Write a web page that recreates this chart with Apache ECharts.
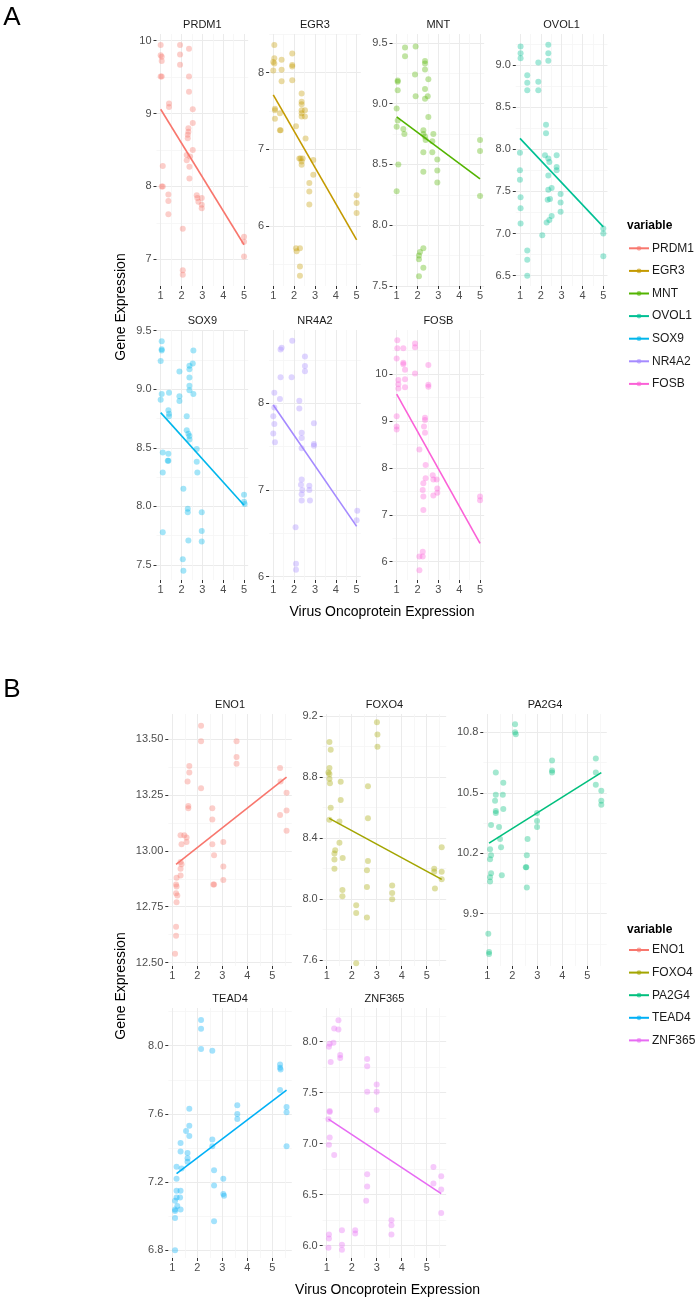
<!DOCTYPE html>
<html>
<head>
<meta charset="utf-8">
<script src="https://cdn.jsdelivr.net/npm/echarts@6/dist/echarts.min.js"></script>
<style>html,body{margin:0;padding:0;background:#fff;}#chart{width:697px;height:1302px;}</style>
</head>
<body>
<div id="chart"></div>
<script>
// ---------------- DATA ----------------
const A_xTicks = ['1','2','3','4','5'];
const B_xTicks = ['1','2','3','4','5'];

const PRDM1 = [[1,9.94],[1,9.80],[1.05,9.78],[1.05,9.72],[1,9.51],[1.05,9.51],[1.93,9.94],[1.93,9.81],[1.93,9.67],[2.36,9.89],[1.4,9.14],[1.4,9.09],[1.1,8.28],[1.1,8.00],[1.05,8.00],[1.37,7.89],[1.37,7.80],[1.37,7.62],[2.36,9.51],[2.36,9.30],[2.54,9.06],[2.54,8.87],[2.33,8.80],[2.33,8.75],[2.3,8.71],[2.3,8.66],[2.54,8.50],[2.25,8.43],[2.41,8.41],[2.25,8.36],[2.38,8.27],[2.38,8.11],[2.73,7.88],[2.76,7.84],[2.81,7.79],[2.97,7.84],[2.97,7.75],[2.97,7.70],[2.06,7.42],[2.06,6.85],[2.06,6.79],[5,7.31],[5,7.24],[5,7.04]];
const PRDM1_fit = [[1,9.06],[5,7.20]];
const PRDM1_yTicks = ['7','8','9','10'];

const EGR3 = [[1.05,8.36],[1.05,8.19],[1,8.14],[1.05,8.12],[1,8.03],[1.4,8.17],[1.4,8.04],[1.4,7.89],[1.91,8.25],[1.91,8.10],[1.91,8.08],[1.91,7.90],[1.08,7.53],[1.08,7.51],[1.08,7.40],[1.32,7.47],[1.32,7.25],[1.35,7.25],[2.09,7.30],[2.36,7.73],[2.36,7.62],[2.36,7.59],[2.36,7.51],[2.36,7.47],[2.36,7.43],[2.52,7.51],[2.52,7.43],[2.55,7.14],[2.25,6.88],[2.31,6.88],[2.41,6.88],[2.36,6.84],[2.36,6.80],[2.92,6.86],[2.92,6.67],[2.73,6.56],[2.73,6.45],[2.73,6.28],[2.09,5.71],[2.12,5.67],[2.28,5.71],[2.28,5.47],[2.28,5.35],[5,6.40],[5,6.30],[5,6.17]];
const EGR3_fit = [[1,7.71],[5,5.82]];
const EGR3_yTicks = ['6','7','8'];

const MNT = [[1.4,9.46],[1.4,9.39],[1.91,9.47],[1.88,9.24],[1.91,9.06],[1.05,9.19],[1.05,9.18],[1.05,9.11],[1,8.96],[1.05,8.86],[1,8.81],[1.08,8.50],[1,8.28],[1.32,8.79],[1.37,8.75],[2.36,9.35],[2.36,9.33],[2.36,9.28],[2.36,9.12],[2.49,9.06],[2.36,9.04],[2.52,9.20],[2.52,8.89],[2.28,8.78],[2.28,8.75],[2.36,8.73],[2.39,8.70],[2.76,8.75],[2.71,8.69],[2.71,8.60],[2.95,8.54],[2.95,8.45],[2.95,8.35],[2.28,8.60],[2.28,8.44],[2.07,7.75],[2.07,7.72],[2.12,7.78],[2.28,7.81],[2.28,7.65],[2.07,7.58],[5,8.70],[5,8.61],[5,8.24]];
const MNT_fit = [[1,8.89],[5,8.38]];
const MNT_yTicks = ['7.5','8.0','8.5','9.0','9.5'];

const OVOL1 = [[1.03,9.22],[1.03,9.14],[1.03,9.08],[1.35,8.88],[1.35,8.79],[1.35,8.70],[1.88,9.03],[1.88,8.80],[1.88,8.70],[2.36,9.24],[2.36,9.14],[2.36,9.05],[2.25,8.29],[2.25,8.19],[1,7.96],[1,7.75],[1,7.64],[1.03,7.43],[1.03,7.30],[1.03,7.12],[1.35,6.80],[1.35,6.69],[1.35,6.50],[2.07,6.98],[2.2,7.93],[2.36,7.89],[2.41,7.85],[2.76,7.93],[2.36,7.69],[2.36,7.52],[2.52,7.54],[2.33,7.40],[2.44,7.41],[2.52,7.21],[2.41,7.16],[2.28,7.13],[2.76,7.79],[2.76,7.75],[2.95,7.47],[2.95,7.37],[2.95,7.26],[5,7.06],[5,7.00],[5,6.73]];
const OVOL1_fit = [[1,8.13],[5,7.08]];
const OVOL1_yTicks = ['6.5','7.0','7.5','8.0','8.5','9.0'];

const SOX9 = [[1.05,9.41],[1.05,9.34],[1.05,9.33],[1,9.24],[1.05,8.96],[1,8.91],[1.1,7.78],[1.4,8.97],[1.37,8.82],[1.4,8.79],[1.4,8.77],[1.1,8.46],[1.1,8.29],[1.37,8.45],[1.37,8.39],[1.34,8.39],[1.9,9.15],[1.9,8.94],[1.9,8.90],[2.09,8.15],[2.38,9.20],[2.38,9.17],[2.57,9.33],[2.54,9.22],[2.38,9.10],[2.38,9.03],[2.38,8.99],[2.57,8.96],[2.25,8.77],[2.25,8.65],[2.33,8.62],[2.38,8.60],[2.38,8.57],[2.73,8.49],[2.73,8.38],[2.76,8.29],[2.3,7.98],[2.3,7.95],[2.33,7.71],[2.97,7.95],[2.97,7.79],[2.97,7.70],[2.06,7.55],[2.09,7.45],[5,8.10],[5,8.04],[5.03,8.02]];
const SOX9_fit = [[1,8.80],[5,8.01]];
const SOX9_yTicks = ['7.5','8.0','8.5','9.0','9.5'];

const NR4A2 = [[1.91,8.72],[1.35,8.62],[1.4,8.64],[1.35,8.30],[1.88,8.30],[2.52,8.54],[2.52,8.43],[2.52,8.37],[1.32,8.05],[1.05,8.12],[1.05,7.95],[1,7.85],[1.05,7.76],[1,7.65],[1.08,7.55],[2.25,8.03],[2.25,7.94],[2.36,7.66],[2.36,7.60],[2.36,7.48],[2.95,7.77],[2.95,7.53],[2.95,7.51],[2.36,7.12],[2.33,7.06],[2.39,7.00],[2.36,6.95],[2.36,6.88],[2.73,7.05],[2.73,7.00],[2.76,6.88],[2.07,6.57],[2.09,6.15],[2.09,6.08],[5.03,6.76],[5,6.65]];
const NR4A2_fit = [[1,7.98],[5,6.58]];
const NR4A2_yTicks = ['6','7','8'];

const FOSB = [[1.03,10.72],[1.03,10.55],[1,10.33],[1.32,10.55],[1.32,10.24],[1.32,10.21],[1.4,10.09],[1.08,9.87],[1.08,9.78],[1.08,9.69],[1.4,9.89],[1.4,9.72],[1.88,10.65],[1.88,10.57],[1.88,10.01],[2.09,8.39],[1,9.10],[1,8.88],[1,8.82],[2.36,9.07],[2.36,9.02],[2.31,8.88],[2.36,8.75],[2.52,9.77],[2.52,9.73],[2.52,10.19],[2.39,8.06],[2.39,7.78],[2.28,7.67],[2.25,7.53],[2.28,7.39],[2.28,7.10],[2.73,7.84],[2.76,7.75],[2.92,7.75],[2.95,7.56],[2.95,7.47],[2.76,7.41],[2.25,6.21],[2.25,6.11],[2.09,6.11],[2.09,5.82],[5,7.39],[5,7.31]];
const FOSB_fit = [[1,9.57],[5,6.39]];
const FOSB_yTicks = ['6','7','8','9','10'];

const ENO1 = [[2.15,13.56],[2.15,13.49],[2.15,13.28],[3.57,13.49],[3.57,13.42],[3.57,13.39],[1.68,13.38],[1.61,13.31],[1.68,13.35],[1.64,13.20],[1.64,13.19],[5.31,13.37],[5.33,13.31],[5.57,13.26],[5.57,13.18],[5.31,13.16],[5.57,13.09],[1.33,13.07],[1.48,13.07],[1.57,13.06],[1.57,13.04],[1.37,13.03],[2.6,13.19],[2.6,13.14],[2.6,13.03],[2.67,12.98],[2.67,12.85],[2.64,12.85],[3.04,13.04],[3.04,12.93],[3.04,12.87],[1.33,12.95],[1.37,12.94],[1.33,12.92],[1.33,12.89],[1.17,12.88],[1.15,12.85],[1.17,12.84],[1.15,12.81],[1.2,12.80],[1.17,12.77],[1.15,12.66],[1.15,12.62],[1.11,12.54]];
const ENO1_fit = [[1.15,12.94],[5.57,13.33]];
const ENO1_yTicks = ['12.50','12.75','13.00','13.25','13.50'];

const FOXO4 = [[1.11,9.03],[1.16,8.98],[1.11,8.86],[1.07,8.83],[1.11,8.82],[1.11,8.79],[1.13,8.76],[1.56,8.77],[1.56,8.65],[1.51,8.51],[1.51,8.37],[1.16,8.60],[1.11,8.52],[1.34,8.32],[1.31,8.30],[1.31,8.26],[1.31,8.20],[1.64,8.27],[1.63,8.06],[1.63,8.02],[3.01,9.16],[3.03,9.08],[3.03,9.00],[2.65,8.74],[2.65,8.53],[2.65,8.25],[2.61,8.19],[2.61,8.08],[2.61,7.88],[2.18,7.96],[2.18,7.91],[2.18,7.58],[3.62,8.09],[3.62,8.04],[3.62,8.00],[5.3,8.18],[5.3,8.20],[5.33,8.07],[5.6,8.34],[5.6,8.18],[5.6,8.13]];
const FOXO4_fit = [[1.1,8.53],[5.6,8.13]];
const FOXO4_yTicks = ['7.6','8.0','8.4','8.8','9.2'];

const PA2G4 = [[2.11,10.84],[2.11,10.80],[2.14,10.79],[3.59,10.66],[3.59,10.61],[3.59,10.60],[5.34,10.67],[5.34,10.60],[5.34,10.54],[5.56,10.51],[5.56,10.46],[5.56,10.44],[1.34,10.60],[1.34,10.49],[1.31,10.46],[1.34,10.41],[1.34,10.40],[1.64,10.55],[1.62,10.49],[1.64,10.42],[1.15,10.34],[1.11,10.22],[1.15,10.19],[1.11,10.17],[1.15,10.10],[1.11,10.08],[1.11,10.06],[1.47,10.33],[1.51,10.27],[1.55,10.23],[1.58,10.09],[2.99,10.40],[2.99,10.36],[2.99,10.33],[2.61,10.27],[2.58,10.19],[2.54,10.13],[2.56,10.13],[2.58,10.03],[1.04,9.80],[1.07,9.71],[1.07,9.70]];
const PA2G4_fit = [[1.07,10.25],[5.56,10.60]];
const PA2G4_yTicks = ['9.9','10.2','10.5','10.8'];

const TEAD4 = [[2.15,8.15],[2.15,8.10],[2.15,7.98],[2.6,7.97],[5.31,7.89],[5.31,7.87],[5.33,7.86],[5.31,7.74],[5.57,7.64],[5.57,7.61],[5.57,7.41],[3.6,7.65],[3.6,7.60],[3.6,7.57],[1.68,7.63],[1.68,7.53],[1.68,7.47],[1.55,7.50],[1.33,7.43],[1.33,7.38],[1.61,7.37],[1.61,7.34],[1.61,7.32],[2.6,7.45],[2.6,7.41],[2.67,7.27],[2.67,7.18],[2.67,6.97],[3.04,7.22],[3.04,7.13],[3.07,7.12],[1.17,7.29],[1.37,7.28],[1.17,7.22],[1.17,7.15],[1.33,7.15],[1.17,7.11],[1.31,7.11],[1.11,7.09],[1.2,7.06],[1.11,7.04],[1.11,7.03],[1.33,7.04],[1.11,6.99],[1.11,6.80]];
const TEAD4_fit = [[1.17,7.25],[5.57,7.74]];
const TEAD4_yTicks = ['6.8','7.2','7.6','8.0'];

const ZNF365 = [[1.47,8.21],[1.3,8.13],[1.47,8.12],[1.12,7.98],[1.09,7.95],[1.27,7.99],[1.16,7.80],[1.54,7.87],[1.54,7.84],[2.62,7.83],[2.62,7.76],[2.62,7.51],[2.62,6.70],[2.62,6.58],[2.58,6.44],[3.0,7.58],[3.0,7.51],[3.0,7.33],[1.12,7.32],[1.12,7.31],[1.07,7.24],[1.12,7.06],[1.09,6.99],[1.3,6.89],[5.27,6.77],[5.27,6.61],[5.58,6.68],[5.58,6.55],[5.58,6.32],[1.09,6.11],[1.09,6.07],[1.07,5.98],[1.61,6.15],[1.61,6.01],[1.61,5.96],[2.14,6.15],[2.14,6.12],[3.59,6.25],[3.59,6.20],[3.59,6.11]];
const ZNF365_fit = [[1.07,7.24],[5.58,6.51]];
const ZNF365_yTicks = ['6.0','6.5','7.0','7.5','8.0'];

const A_genes = ['PRDM1','EGR3','MNT','OVOL1','SOX9','NR4A2','FOSB'];
const B_genes = ['ENO1','FOXO4','PA2G4','TEAD4','ZNF365'];

// ---------------- LAYOUT / STYLE ----------------
const FONT = '"Liberation Sans", Arial, Helvetica, sans-serif';
const A_cols = [156.5, 269.1, 392.5, 515.8], A_w = 91.7;
const A_rows = [[34, 252], [330, 250]];
const B_cols = [168.3, 322.7, 483.3], B_w = 123.5;
const B_rows = [[714, 252], [1008, 250]];

const panels = [
  {name:'PRDM1', data:PRDM1, fit:PRDM1_fit, yT:PRDM1_yTicks, xT:A_xTicks, color:'#F8766D', col:A_cols[0], w:A_w, row:A_rows[0], xr:[0.8,5.2], yr:[6.634,10.092]},
  {name:'EGR3', data:EGR3, fit:EGR3_fit, yT:EGR3_yTicks, xT:A_xTicks, color:'#C49A00', col:A_cols[1], w:A_w, row:A_rows[0], xr:[0.8,5.2], yr:[5.217,8.505]},
  {name:'MNT', data:MNT, fit:MNT_fit, yT:MNT_yTicks, xT:A_xTicks, color:'#53B400', col:A_cols[2], w:A_w, row:A_rows[0], xr:[0.8,5.2], yr:[7.5,9.572]},
  {name:'OVOL1', data:OVOL1, fit:OVOL1_fit, yT:OVOL1_yTicks, xT:A_xTicks, color:'#00C094', col:A_cols[3], w:A_w, row:A_rows[0], xr:[0.8,5.2], yr:[6.378,9.368]},
  {name:'SOX9', data:SOX9, fit:SOX9_fit, yT:SOX9_yTicks, xT:A_xTicks, color:'#00B6EB', col:A_cols[0], w:A_w, row:A_rows[1], xr:[0.8,5.2], yr:[7.372,9.505]},
  {name:'NR4A2', data:NR4A2, fit:NR4A2_fit, yT:NR4A2_yTicks, xT:A_xTicks, color:'#A58AFF', col:A_cols[1], w:A_w, row:A_rows[1], xr:[0.8,5.2], yr:[5.962,8.845]},
  {name:'FOSB', data:FOSB, fit:FOSB_fit, yT:FOSB_yTicks, xT:A_xTicks, color:'#FB61D7', col:A_cols[2], w:A_w, row:A_rows[1], xr:[0.8,5.2], yr:[5.61,10.938]},
  {name:'ENO1', data:ENO1, fit:ENO1_fit, yT:ENO1_yTicks, xT:B_xTicks, color:'#F8766D', col:B_cols[0], w:B_w, row:B_rows[0], xr:[0.84,5.78], yr:[12.485,13.612]},
  {name:'FOXO4', data:FOXO4, fit:FOXO4_fit, yT:FOXO4_yTicks, xT:B_xTicks, color:'#A3A500', col:B_cols[1], w:B_w, row:B_rows[0], xr:[0.84,5.78], yr:[7.562,9.214]},
  {name:'PA2G4', data:PA2G4, fit:PA2G4_fit, yT:PA2G4_yTicks, xT:B_xTicks, color:'#00BF7D', col:B_cols[2], w:B_w, row:B_rows[0], xr:[0.84,5.78], yr:[9.64,10.891]},
  {name:'TEAD4', data:TEAD4, fit:TEAD4_fit, yT:TEAD4_yTicks, xT:B_xTicks, color:'#00B0F6', col:B_cols[0], w:B_w, row:B_rows[1], xr:[0.84,5.78], yr:[6.755,8.221]},
  {name:'ZNF365', data:ZNF365, fit:ZNF365_fit, yT:ZNF365_yTicks, xT:B_xTicks, color:'#E76BF3', col:B_cols[1], w:B_w, row:B_rows[1], xr:[0.84,5.78], yr:[5.879,8.33]}
];

function minorVals(ticks, lo, hi) {
  const step = ticks[1] - ticks[0];
  const out = [ticks[0] - step / 2];
  ticks.forEach(t => out.push(t + step / 2));
  return out.filter(v => v > lo && v < hi);
}

const option = {
  animation: false,
  backgroundColor: '#ffffff',
  textStyle: {fontFamily: FONT},
  grid: [], xAxis: [], yAxis: [], series: [], graphic: [],
  legend: []
};

function majorAxis(gi, range, labels, isX) {
  const vals = labels.map(Number);
  const dec = (labels[0].split('.')[1] || '').length;
  return {
    type: 'value', gridIndex: gi, min: range[0], max: range[1],
    axisLine: {show: false},
    axisTick: {show: true, length: 3, inside: false, lineStyle: {color: '#333333', width: 1}, customValues: vals},
    axisLabel: {show: true, customValues: vals, margin: isX ? 4 : 5, fontSize: 11, color: '#4d4d4d', fontFamily: FONT,
      formatter: v => Number(v).toFixed(dec)},
    splitLine: {show: true, lineStyle: {color: '#EBEBEB', width: 1}},
    minorTick: {show: false}, minorSplitLine: {show: false}
  };
}
function minorAxis(gi, range, labels) {
  const vals = minorVals(labels.map(Number), range[0], range[1]);
  return {
    type: 'value', gridIndex: gi, min: range[0], max: range[1],
    axisLine: {show: false},
    axisTick: {show: false, customValues: vals},
    axisLabel: {show: false, customValues: vals},
    splitLine: {show: true, lineStyle: {color: '#F5F5F5', width: 0.8}}
  };
}

panels.forEach((p, gi) => {
  option.grid.push({left: p.col, top: p.row[0], width: p.w, height: p.row[1], show: false, containLabel: false});
  const xi = option.xAxis.length;
  option.xAxis.push(majorAxis(gi, p.xr, p.xT, true));
  option.xAxis.push(minorAxis(gi, p.xr, p.xT));
  const yi = option.yAxis.length;
  option.yAxis.push(majorAxis(gi, p.yr, p.yT, false));
  option.yAxis.push(minorAxis(gi, p.yr, p.yT));
  option.series.push({
    type: 'line', name: p.name, xAxisIndex: xi, yAxisIndex: yi, data: p.fit,
    showSymbol: false, symbol: 'circle', symbolSize: 5, z: 4, silent: true,
    lineStyle: {color: p.color, width: 1.6}, itemStyle: {color: p.color, opacity: 0.6}
  });
  option.series.push({
    type: 'scatter', name: p.name, xAxisIndex: xi, yAxisIndex: yi, data: p.data,
    symbol: 'circle', symbolSize: 6, z: 3, silent: true,
    itemStyle: {color: p.color, opacity: 0.36}
  });
  // strip label
  option.graphic.push({type: 'text', x: p.col + p.w / 2, y: p.row[0] - 9.5, silent: true,
    style: {text: p.name, fill: '#1a1a1a', font: '11px ' + FONT, textAlign: 'center', textVerticalAlign: 'middle'}});
});

// axis titles & panel letters
const txt = (s, x, y, size, opts) => Object.assign({type: 'text', x: x, y: y, silent: true,
  style: {text: s, fill: '#000000', font: size + 'px ' + FONT, textAlign: 'center', textVerticalAlign: 'middle'}}, opts || {});
option.graphic.push(txt('A', 12, 18, 26));
option.graphic.push(txt('B', 12, 690, 26));
option.graphic.push(txt('Virus Oncoprotein Expression', (A_cols[0] + A_cols[3] + A_w) / 2, 612, 14));
option.graphic.push(txt('Virus Oncoprotein Expression', (B_cols[0] + B_cols[2] + B_w) / 2, 1290, 14));
option.graphic.push(txt('Gene Expression', 121, (A_rows[0][0] + A_rows[1][0] + A_rows[1][1]) / 2, 14, {rotation: Math.PI / 2}));
option.graphic.push(txt('Gene Expression', 121, (B_rows[0][0] + B_rows[1][0] + B_rows[1][1]) / 2, 14, {rotation: Math.PI / 2}));
option.graphic.push({type: 'text', x: 627, y: 225.7, silent: true,
  style: {text: 'variable', fill: '#000', font: 'bold 12px ' + FONT, textAlign: 'left', textVerticalAlign: 'middle'}});
option.graphic.push({type: 'text', x: 627, y: 929.3, silent: true,
  style: {text: 'variable', fill: '#000', font: 'bold 12px ' + FONT, textAlign: 'left', textVerticalAlign: 'middle'}});

const legendBase = {
  orient: 'vertical', left: 628, padding: 0, itemWidth: 20, itemHeight: 6, itemGap: 8.6, selectedMode: false,
  textStyle: {fontSize: 12, color: '#1a1a1a', fontFamily: FONT, lineHeight: 14, padding: [0, 0, 0, -2]}
};
option.legend.push(Object.assign({}, legendBase, {top: 241.3, data: A_genes}));
option.legend.push(Object.assign({}, legendBase, {top: 943, data: B_genes}));

const chart = echarts.init(document.getElementById('chart'), null, {renderer: 'canvas'});
chart.setOption(option);
</script>
</body>
</html>
